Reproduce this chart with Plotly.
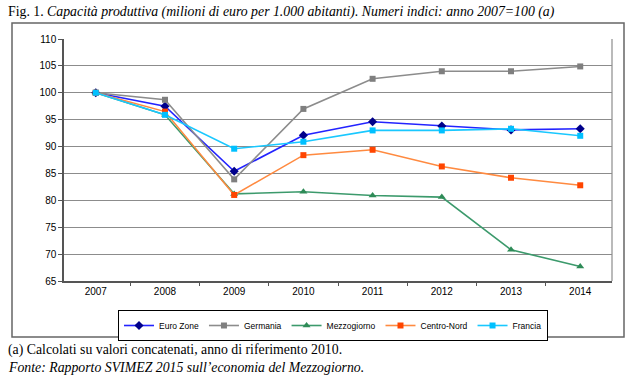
import plotly.graph_objects as go

years = ["2007", "2008", "2009", "2010", "2011", "2012", "2013", "2014"]
euro_zone = [100, 97.5, 85.4, 92.1, 94.6, 93.8, 93.1, 93.3]
germania = [100, 98.7, 83.9, 97.0, 102.6, 104.0, 104.0, 104.9]
mezzogiorno = [100, 95.9, 81.2, 81.6, 80.9, 80.6, 70.8, 67.7]
centro_nord = [100, 96.5, 81.0, 88.4, 89.4, 86.3, 84.2, 82.8]
francia = [100, 95.9, 89.6, 90.9, 93.0, 93.0, 93.3, 92.0]
y_ticks = [65, 70, 75, 80, 85, 90, 95, 100, 105, 110]

series = [
    ("Euro Zone", euro_zone, "#2323ff", "#00008b", "diamond", 7),
    ("Germania", germania, "#8c8c8c", "#7f7f7f", "square", 6),
    ("Mezzogiorno", mezzogiorno, "#3c9a6c", "#2e8b57", "triangle-up", 7),
    ("Centro-Nord", centro_nord, "#ff8a40", "#ff4500", "square", 6),
    ("Francia", francia, "#19c8ff", "#00c0ff", "square", 6),
]

fig = go.Figure()
for name, vals, lc, mc, sym, ms in series:
    fig.add_trace(go.Scatter(
        x=years, y=vals, name=name, mode="lines+markers",
        line=dict(color=lc, width=1.6),
        marker=dict(color=mc, symbol=sym, size=ms),
    ))

L, R, T, B = 64, 612, 39, 281
W, H = 635, 376
pw, ph = R - L, B - T

def px(x):
    return (x - L) / pw

def py(y):
    return (B - y) / ph

serif = "Liberation Serif, Times New Roman, serif"

fig.update_layout(
    width=W, height=H,
    margin=dict(l=L, r=W - R, t=T, b=H - B),
    plot_bgcolor="white", paper_bgcolor="white",
    font=dict(family="Liberation Sans, Arial, sans-serif", size=10, color="black"),
    showlegend=True,
    legend=dict(
        orientation="h", x=px(333), y=py(310), xanchor="center", yanchor="top",
        bordercolor="black", borderwidth=1, font=dict(size=8.5),
        itemwidth=30, tracegroupgap=0,
    ),
    xaxis=dict(
        type="category", showgrid=False, showline=True, linecolor="#555",
        linewidth=1.5, ticks="outside", tickson="boundaries", ticklen=3,
        tickcolor="#555", mirror=False, tickfont=dict(size=10),
    ),
    yaxis=dict(
        range=[65, 110], tickvals=y_ticks, showgrid=True, gridcolor="#8c8c8c",
        gridwidth=1.2, showline=True, linecolor="#555", linewidth=1.5,
        ticks="outside", ticklen=4, tickcolor="#555", zeroline=False,
        tickfont=dict(size=10),
    ),
    shapes=[
        dict(type="rect", xref="paper", yref="paper",
             x0=px(12), x1=px(624), y0=py(337), y1=py(23),
             line=dict(color="#666", width=1.5), layer="below"),
        dict(type="line", xref="paper", yref="paper",
             x0=1, x1=1, y0=0, y1=1, line=dict(color="#8c8c8c", width=1.2)),
    ],
    annotations=[
        dict(xref="paper", yref="paper", x=px(6), y=py(12), xanchor="left",
             yanchor="middle", showarrow=False,
             text="Fig. 1. <i>Capacità produttiva (milioni di euro per 1.000 abitanti). Numeri indici: anno 2007=100 (a)</i>",
             font=dict(family=serif, size=13.8)),
        dict(xref="paper", yref="paper", x=px(6), y=py(350), xanchor="left",
             yanchor="middle", showarrow=False,
             text="(a) Calcolati su valori concatenati, anno di riferimento 2010.",
             font=dict(family=serif, size=13.8)),
        dict(xref="paper", yref="paper", x=px(6), y=py(367), xanchor="left",
             yanchor="middle", showarrow=False,
             text="<i>Fonte: Rapporto SVIMEZ 2015 sull’economia del Mezzogiorno.</i>",
             font=dict(family=serif, size=13.8)),
    ],
)

fig.write_html("out.html", config={"displayModeBar": False},
               post_script="document.body.style.margin='0';")
